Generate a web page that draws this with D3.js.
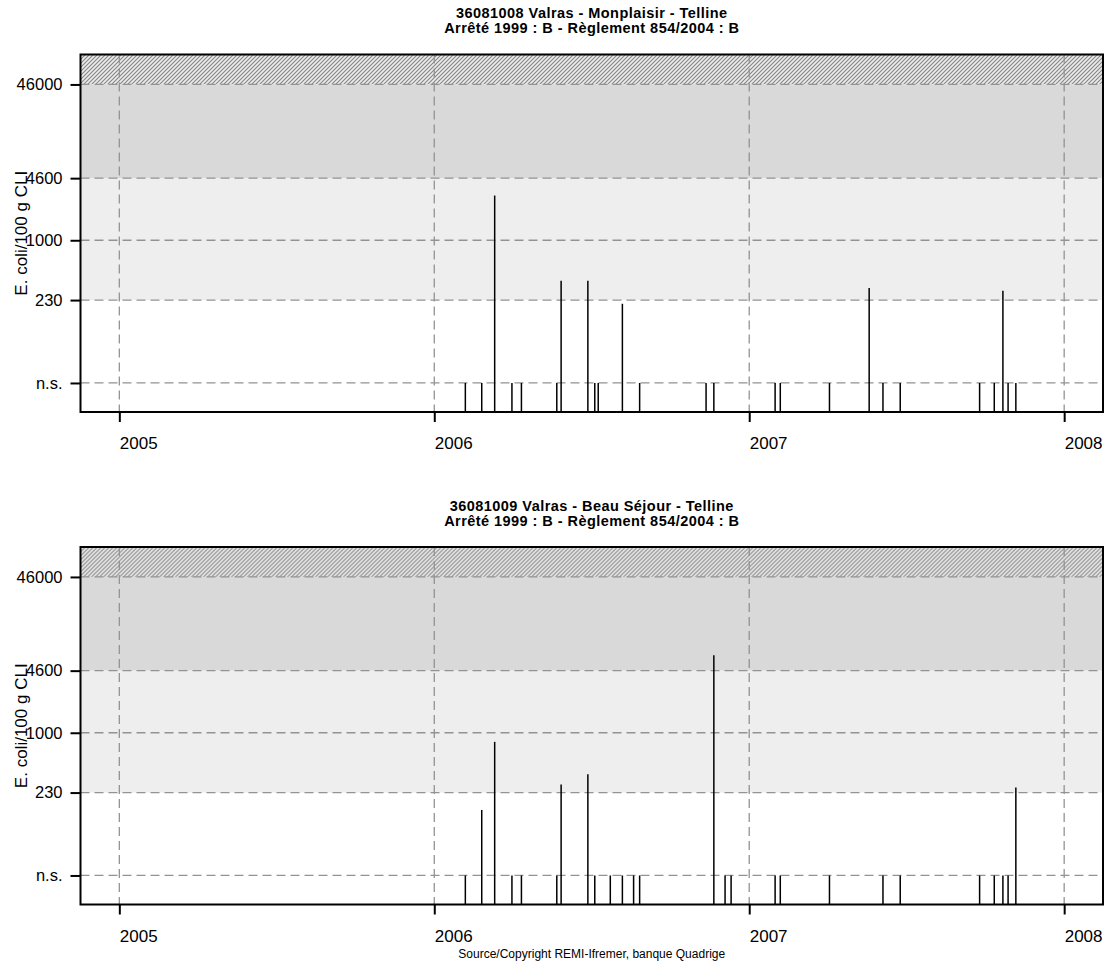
<!DOCTYPE html>
<html>
<head>
<meta charset="utf-8">
<script src="https://cdnjs.cloudflare.com/ajax/libs/d3/7.8.5/d3.min.js"></script>
<style>
body { margin: 0; background: #fff; }
text { font-family: "Liberation Sans", Arial, Helvetica, sans-serif; fill: #000; }
</style>
</head>
<body>
<div id="chart-area"></div>
<script>
/*
*    E. coli results, two sites
*/
var yearTicks = ["2005", "2006", "2007", "2008"];
var yTickValues = [30, 230, 1000, 4600, 46000];
var yTickLabels = ["n.s.", "230", "1000", "4600", "46000"];
var nsValue = 30;

var titles1 = ["36081008 Valras - Monplaisir - Telline", "Arrêté 1999 : B - Règlement 854/2004 : B"];
var dates1 = ["2006-02-06", "2006-02-25", "2006-03-12", "2006-04-01", "2006-04-12", "2006-05-23",
    "2006-05-28", "2006-06-28", "2006-07-06", "2006-07-10", "2006-08-07", "2006-08-27",
    "2006-11-12", "2006-11-21", "2007-01-31", "2007-02-06", "2007-04-04", "2007-05-20",
    "2007-06-05", "2007-06-25", "2007-09-25", "2007-10-12", "2007-10-22", "2007-10-28", "2007-11-06"];
var values1 = ["n.s.", "n.s.", 3000, "n.s.", "n.s.", "n.s.",
    370, 370, "n.s.", "n.s.", 210, "n.s.",
    "n.s.", "n.s.", "n.s.", "n.s.", "n.s.", 310,
    "n.s.", "n.s.", "n.s.", "n.s.", 290, "n.s.", "n.s."];

var titles2 = ["36081009 Valras - Beau Séjour - Telline", "Arrêté 1999 : B - Règlement 854/2004 : B"];
var dates2 = ["2006-02-06", "2006-02-25", "2006-03-12", "2006-04-01", "2006-04-12", "2006-05-23",
    "2006-05-28", "2006-06-28", "2006-07-06", "2006-07-24", "2006-08-07", "2006-08-20",
    "2006-08-27", "2006-11-21", "2006-12-04", "2006-12-11", "2007-01-31", "2007-02-06",
    "2007-04-04", "2007-06-05", "2007-06-25", "2007-09-25", "2007-10-12", "2007-10-22",
    "2007-10-28", "2007-11-06"];
var values2 = ["n.s.", 150, 800, "n.s.", "n.s.", "n.s.",
    280, 360, "n.s.", "n.s.", "n.s.", "n.s.",
    "n.s.", 6700, "n.s.", "n.s.", "n.s.", "n.s.",
    "n.s.", "n.s.", "n.s.", "n.s.", "n.s.", "n.s.",
    "n.s.", 260];

var parseDate = d3.timeParse("%Y-%m-%d");

var svg = d3.select("#chart-area").append("svg")
    .attr("width", 1115)
    .attr("height", 962);

var pat = svg.append("defs").append("pattern")
    .attr("id", "hatch")
    .attr("patternUnits", "userSpaceOnUse")
    .attr("width", 4)
    .attr("height", 4);
pat.append("rect").attr("width", 4).attr("height", 4).attr("fill", "#ebebeb");
pat.append("path")
    .attr("d", "M-1,1 l2,-2 M0,4 l4,-4 M3,5 l2,-2")
    .attr("stroke", "#858585")
    .attr("stroke-width", 1.1);

var plotLeft = 80.5, plotRight = 1103, plotTop = 54.5, plotBottom = 412;

var x = d3.scaleTime()
    .domain([new Date(2004, 10, 17), new Date(2008, 1, 15)])
    .range([plotLeft, plotRight]);

var y = d3.scaleLog()
    .domain([14.7, 96000])
    .range([plotBottom, plotTop]);

function drawPanel(offset, titles, dates, values) {
    var g = svg.append("g").attr("transform", "translate(0," + offset + ")");
    var w = plotRight - plotLeft;

    var data = dates.map((d, i) => {
        return { date: parseDate(d), value: values[i] === "n.s." ? nsValue : values[i] };
    });

    // quality bands
    g.append("rect")
        .attr("x", plotLeft).attr("width", w)
        .attr("y", plotTop).attr("height", y(46000) - plotTop)
        .attr("fill", "url(#hatch)");
    g.append("rect")
        .attr("x", plotLeft).attr("width", w)
        .attr("y", y(46000)).attr("height", y(4600) - y(46000))
        .attr("fill", "#d9d9d9");
    g.append("rect")
        .attr("x", plotLeft).attr("width", w)
        .attr("y", y(4600)).attr("height", y(230) - y(4600))
        .attr("fill", "#eeeeee");

    // grid
    g.selectAll(".hgrid").data(yTickValues).enter().append("line")
        .attr("x1", plotLeft).attr("x2", plotRight)
        .attr("y1", (d) => y(d)).attr("y2", (d) => y(d))
        .attr("stroke", "#939393")
        .attr("stroke-width", 1.3)
        .attr("stroke-dasharray", "9,5");
    g.selectAll(".vgrid").data(yearTicks).enter().append("line")
        .attr("x1", (d) => x(parseDate(d + "-01-01"))).attr("x2", (d) => x(parseDate(d + "-01-01")))
        .attr("y1", plotTop).attr("y2", plotBottom)
        .attr("stroke", "#939393")
        .attr("stroke-width", 1.3)
        .attr("stroke-dasharray", "9,5");

    // bars
    g.selectAll(".bar").data(data).enter().append("line")
        .attr("x1", (d) => x(d.date)).attr("x2", (d) => x(d.date))
        .attr("y1", y.range()[0]).attr("y2", (d) => y(d.value))
        .attr("stroke", "black")
        .attr("stroke-width", 1.5);

    // box
    g.append("rect")
        .attr("x", plotLeft).attr("y", plotTop)
        .attr("width", w).attr("height", plotBottom - plotTop)
        .attr("fill", "none")
        .attr("stroke", "black")
        .attr("stroke-width", 2);

    var xAxis = d3.axisBottom(x)
        .tickValues(yearTicks.map((d) => parseDate(d + "-01-01")))
        .tickFormat(d3.timeFormat("%Y"))
        .tickSize(10);
    var gx = g.append("g").attr("transform", "translate(0," + plotBottom + ")").call(xAxis);
    gx.select(".domain").remove();
    gx.selectAll(".tick line").attr("stroke", "black").attr("stroke-width", 2);
    gx.selectAll(".tick text")
        .attr("y", 37).attr("dy", 0)
        .attr("text-anchor", "start")
        .attr("font-size", 17)
        .attr("font-family", null);

    var yAxis = d3.axisLeft(y)
        .tickValues(yTickValues)
        .tickFormat((d, i) => yTickLabels[i])
        .tickSize(10)
        .tickPadding(8);
    var gy = g.append("g").attr("transform", "translate(" + plotLeft + ",0)").call(yAxis);
    gy.select(".domain").remove();
    gy.selectAll(".tick line").attr("stroke", "black").attr("stroke-width", 2);
    gy.selectAll(".tick text")
        .attr("font-size", 16.5)
        .attr("font-family", null);

    g.append("text")
        .attr("transform", "translate(27," + ((plotTop + plotBottom) / 2) + ") rotate(-90)")
        .attr("text-anchor", "middle")
        .attr("font-size", 17)
        .text("E. coli/100 g CLI");

    g.selectAll(".title").data(titles).enter().append("text")
        .attr("x", (plotLeft + plotRight) / 2)
        .attr("y", (d, i) => 18 + i * 15)
        .attr("text-anchor", "middle")
        .attr("font-size", 14.5)
        .attr("font-weight", "bold")
        .attr("letter-spacing", 0.45)
        .text((d) => d);
}

drawPanel(0, titles1, dates1, values1);
drawPanel(492.5, titles2, dates2, values2);

svg.append("text")
    .attr("x", (plotLeft + plotRight) / 2)
    .attr("y", 958)
    .attr("text-anchor", "middle")
    .attr("font-size", 12)
    .text("Source/Copyright REMI-Ifremer, banque Quadrige");
</script>
</body>
</html>
